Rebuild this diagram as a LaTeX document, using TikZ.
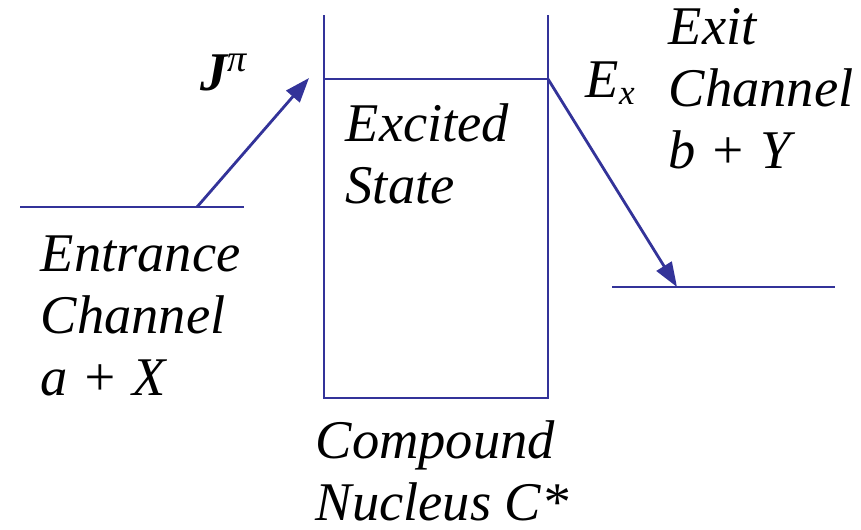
\documentclass[tikz,border=0pt]{standalone}
\usepackage{fontspec}
\setmainfont{Liberation Serif}
\usetikzlibrary{arrows.meta}
\definecolor{lineblue}{HTML}{333399}
\begin{document}
\begin{tikzpicture}[
        x=0.01cm, y=-0.01cm,
        >={Triangle[length=7pt, width=5pt]},
        lvl/.style={draw=lineblue, line width=0.8pt},
        trans/.style={->, draw=lineblue, line width=0.8pt},
        lbl/.style={anchor=base west, inner sep=0pt, align=left, font=\fontsize{15.5}{17.6}\selectfont\itshape}
    ]
    \useasboundingbox (0,0) rectangle (861,529);

    % Niveaux
    \coordinate (boxtl) at (324,15);
    \coordinate (boxtr) at (548,15);
    \coordinate (boxbl) at (324,398);
    \coordinate (boxbr) at (548,398);
    \coordinate (exl)   at (324,79);
    \coordinate (exr)   at (548,79);
    \coordinate (inl)   at (20,207);
    \coordinate (inr)   at (244,207);
    \coordinate (inp)   at (197,207);
    \coordinate (inend) at (309,78);
    \coordinate (outl)  at (612,287);
    \coordinate (outr)  at (835,287);
    \coordinate (outp)  at (677,287);

    \draw[lvl] (boxtl) -- (boxbl) -- (boxbr) -- (boxtr);
    \draw[lvl] (exl) -- (exr);
    \draw[lvl] (inl) -- (inr);
    \draw[lvl] (outl) -- (outr);

    % Transitions
    \draw[trans] (inp) -- (inend);
    \draw[trans] (exr) -- (outp);

    % Textes (ancre sur la ligne de base de la derniere ligne)
    \node[lbl] (jpi)      at (200,90)  {\textbf{J}\textsuperscript{π}};
    \node[lbl] (excited)  at (345,203) {Excited\\State};
    \node[lbl] (entrance) at (40,395)  {Entrance\\Channel\\a + X};
    \node[lbl] (exit)     at (668,168) {Exit\\Channel\\b + Y};
    \node[lbl] (ex)       at (585,97)  {E\raisebox{-0.3ex}{\fontsize{10}{12}\selectfont x}};
    \node[lbl] (compound) at (315,520) {Compound\\Nucleus C*};

\end{tikzpicture}
\end{document}
